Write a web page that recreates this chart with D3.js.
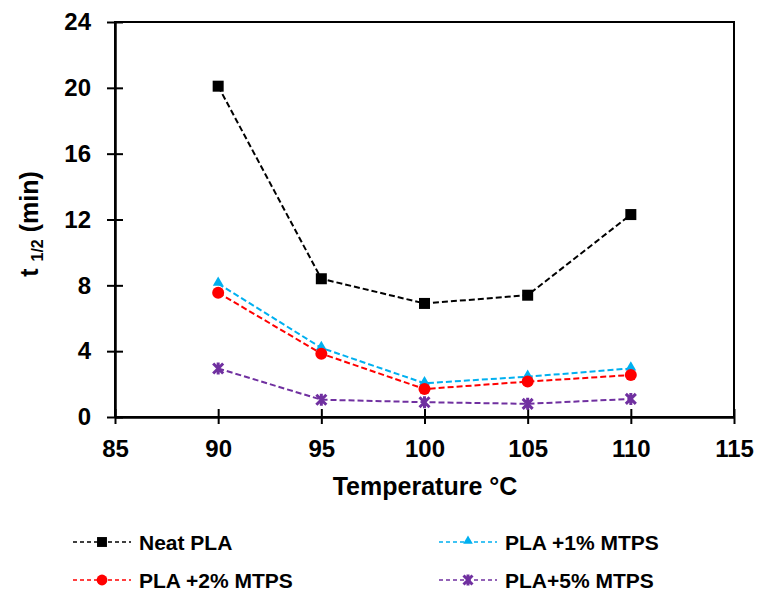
<!DOCTYPE html>
<html>
<head>
<meta charset="utf-8">
<script src="https://cdn.jsdelivr.net/npm/d3@7"></script>
<style>
  body { margin: 0; background: #fff; }
  text { font-family: "Liberation Sans", Arial, sans-serif; font-weight: bold; fill: #000; }
</style>
</head>
<body>
<div id="chart"></div>
<script>
// data
var temps = [90, 95, 100, 105, 110];
var neatPLA = [20.1, 8.4, 6.9, 7.4, 12.3];
var pla1 = [8.1, 4.2, 2.05, 2.45, 2.95];
var pla2 = [7.55, 3.85, 1.7, 2.15, 2.55];
var pla5 = [2.95, 1.05, 0.9, 0.8, 1.1];
var xTicks = [85, 90, 95, 100, 105, 110, 115];
var yTicks = [0, 4, 8, 12, 16, 20, 24];
var seriesNames = ["Neat PLA", "PLA +1% MTPS", "PLA +2% MTPS", "PLA+5% MTPS"];
var seriesColors = ["#000000", "#00B0F0", "#FF0000", "#7030A0"];
var seriesMarkers = ["square", "triangle", "circle", "star"];
var seriesValues = [neatPLA, pla1, pla2, pla5];

var W = 757, H = 592,
    plotL = 115, plotR = 734, plotT = 22, plotB = 417;

var svg = d3.select("#chart").append("svg")
    .attr("width", W)
    .attr("height", H);

var x = d3.scaleLinear().domain([85, 115]).range([plotL, plotR]);
var y = d3.scaleLinear().domain([0, 24]).range([plotB, plotT]);

// frame
svg.append("rect")
    .attr("x", plotL).attr("y", plotT)
    .attr("width", plotR - plotL).attr("height", plotB - plotT)
    .attr("fill", "none").attr("stroke", "#000").attr("stroke-width", 2);

// y axis, ticks cross the line
svg.append("g")
    .attr("transform", "translate(" + plotL + ",0)")
    .call(d3.axisLeft(y).tickValues(yTicks).tickSize(8).tickPadding(16).tickSizeOuter(0));
svg.append("g")
    .attr("transform", "translate(" + plotL + ",0)")
    .call(d3.axisRight(y).tickValues(yTicks).tickSize(8).tickFormat("").tickSizeOuter(0));

svg.append("g")
    .attr("transform", "translate(0," + plotB + ")")
    .call(d3.axisBottom(x).tickValues(xTicks).tickSize(7).tickPadding(16).tickSizeOuter(0));
svg.append("g")
    .attr("transform", "translate(0," + plotB + ")")
    .call(d3.axisTop(x).tickValues(xTicks).tickSize(8).tickFormat("").tickSizeOuter(0));

svg.selectAll(".domain").attr("stroke", "#000").attr("stroke-width", 2);
svg.selectAll(".tick line").attr("stroke", "#000").attr("stroke-width", 2);
svg.selectAll(".tick text")
    .style("font-size", "24px")
    .style("font-family", "'Liberation Sans', Arial, sans-serif")
    .style("font-weight", "bold")
    .attr("fill", "#000");

// axis titles
svg.append("text")
    .attr("x", 425).attr("y", 495)
    .attr("text-anchor", "middle")
    .style("font-size", "25px")
    .text("Temperature °C");

var yTitle = svg.append("text")
    .attr("transform", "translate(38,224) rotate(-90)")
    .attr("text-anchor", "middle")
    .style("font-size", "25px");
yTitle.append("tspan").text("t ");
yTitle.append("tspan").attr("dy", 5).style("font-size", "16px").text("1/2");
yTitle.append("tspan").attr("dy", -5).text(" (min)");

function marker(g, type, color, cx, cy, s) {
    if (type === "square") {
        g.append("rect").attr("x", cx - s * 5.5).attr("y", cy - s * 5.5)
            .attr("width", s * 11).attr("height", s * 11).attr("fill", color);
    } else if (type === "circle") {
        g.append("circle").attr("cx", cx).attr("cy", cy).attr("r", s * 6).attr("fill", color);
    } else if (type === "triangle") {
        g.append("path").attr("d", d3.symbol().type(d3.symbolTriangle).size(s * s * 50)())
            .attr("transform", "translate(" + cx + "," + (cy - 1) + ")")
            .attr("fill", color);
    } else {
        var r = s * 5;
        g.append("path")
            .attr("d", "M" + (cx - r) + "," + (cy - r) + "L" + (cx + r) + "," + (cy + r) +
                "M" + (cx - r) + "," + (cy + r) + "L" + (cx + r) + "," + (cy - r) +
                "M" + cx + "," + (cy - r - 1) + "L" + cx + "," + (cy + r + 1))
            .attr("stroke", color).attr("stroke-width", 3).attr("fill", "none");
    }
}

var line = d3.line()
    .x(function (d, i) { return x(temps[i]); })
    .y(function (d) { return y(d); });

var plot = svg.append("g");
seriesValues.forEach(function (vals, k) {
    plot.append("path")
        .datum(vals)
        .attr("d", line)
        .attr("fill", "none")
        .attr("stroke", seriesColors[k])
        .attr("stroke-width", 2)
        .attr("stroke-dasharray", "6,3");
});
seriesValues.forEach(function (vals, k) {
    vals.forEach(function (v, i) {
        marker(plot, seriesMarkers[k], seriesColors[k], x(temps[i]), y(v), 1);
    });
});

// legend
var legX = [73, 439], legY = [542, 580];
seriesNames.forEach(function (name, k) {
    var lx = legX[k % 2], ly = legY[Math.floor(k / 2)];
    var g = svg.append("g");
    g.append("line")
        .attr("x1", lx).attr("x2", lx + 58)
        .attr("y1", ly).attr("y2", ly)
        .attr("stroke", seriesColors[k])
        .attr("stroke-width", 1.5)
        .attr("stroke-dasharray", "4,3");
    marker(g, seriesMarkers[k], seriesColors[k], lx + 29, ly, 0.9);
    g.append("text")
        .attr("x", lx + 66).attr("y", ly)
        .attr("dy", "0.36em")
        .style("font-size", "21px")
        .text(name);
});
</script>
</body>
</html>
